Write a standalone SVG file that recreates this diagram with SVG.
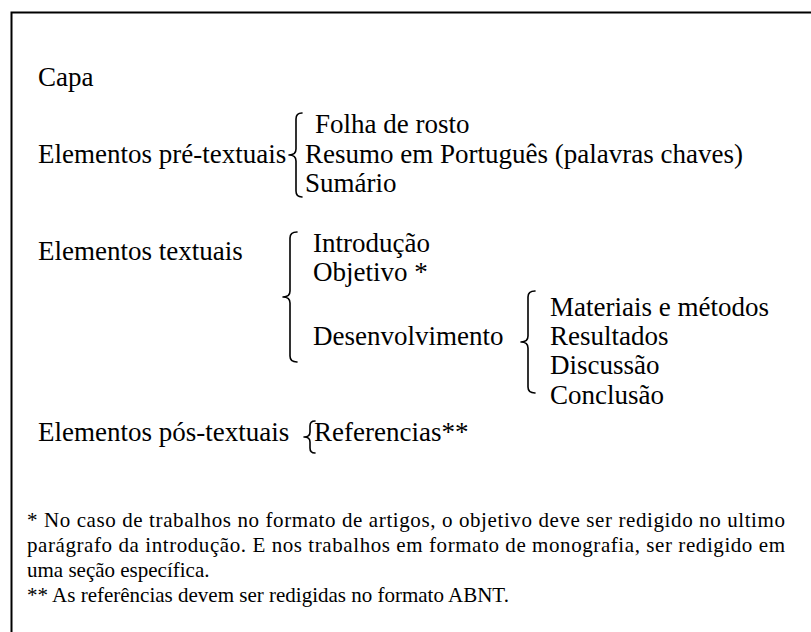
<svg xmlns="http://www.w3.org/2000/svg" width="811" height="632" viewBox="0 0 811 632">
<style>
text{font-family:'Liberation Serif','Times New Roman','DejaVu Serif',serif;fill:#000}
.t{font-size:27px}
.f{font-size:21px}
.b{fill:none;stroke:#000;stroke-width:1.6;stroke-linecap:round;stroke-linejoin:round}
.frame{fill:none;stroke:#000;stroke-width:2}
</style>
<rect width="811" height="632" fill="#fff"/>
<path class="frame" d="M11.5,632 L11.5,12.5 L811,12.5"/>
<g id="capa"><text class="t" x="38" y="85.5">Capa</text></g>
<g id="pre"><text class="t" x="38" y="162.5">Elementos pré-textuais</text></g>
<g id="folha"><text class="t" x="315" y="132.5">Folha de rosto</text></g>
<g id="resumo"><text class="t" x="305" y="162.5">Resumo em Português (palavras chaves)</text></g>
<g id="sumario"><text class="t" x="305" y="191.5">Sumário</text></g>
<g id="textuais"><text class="t" x="38" y="259.5">Elementos textuais</text></g>
<g id="intro"><text class="t" x="313" y="251.5">Introdução</text></g>
<g id="objetivo"><text class="t" x="313" y="280.5">Objetivo *</text></g>
<g id="desenv"><text class="t" x="313" y="344.5">Desenvolvimento</text></g>
<g id="materiais"><text class="t" x="550" y="315.5">Materiais e métodos</text></g>
<g id="resultados"><text class="t" x="550" y="344.5">Resultados</text></g>
<g id="discussao"><text class="t" x="550" y="373.5">Discussão</text></g>
<g id="conclusao"><text class="t" x="550" y="403.5">Conclusão</text></g>
<g id="pos"><text class="t" x="38" y="440.5">Elementos pós-textuais</text></g>
<g id="refs"><text class="t" x="314" y="440.5">Referencias**</text></g>
<g id="connectors">
<path class="b" d="M302,113 Q296,113 296,119 L296,149 Q296,155 289,155 Q296,155 296,161 L296,191 Q296,197 302,197"/>
<path class="b" d="M297,232 Q290,232 290,238 L290,291 Q290,297 283,297 Q290,297 290,303 L290,356 Q290,362 297,362"/>
<path class="b" d="M535,291 Q528,291 528,297 L528,336 Q528,342 521,342 Q528,342 528,348 L528,387 Q528,393 535,393"/>
<path class="b" d="M315,421 Q310,421 310,426 L310,432 Q310,437 304,437 Q310,437 310,442 L310,448 Q310,453 315,453"/>
</g>
<g id="notes">
<text class="f" x="27" y="527" textLength="758" lengthAdjust="spacing">* No caso de trabalhos no formato de artigos, o objetivo deve ser redigido no ultimo</text>
<text class="f" x="27" y="552" textLength="758" lengthAdjust="spacing">parágrafo da introdução. E nos trabalhos em formato de monografia, ser redigido em</text>
<text class="f" x="27" y="577">uma seção específica.</text>
<text class="f" x="27" y="602">** As referências devem ser redigidas no formato ABNT.</text>
</g>
</svg>
